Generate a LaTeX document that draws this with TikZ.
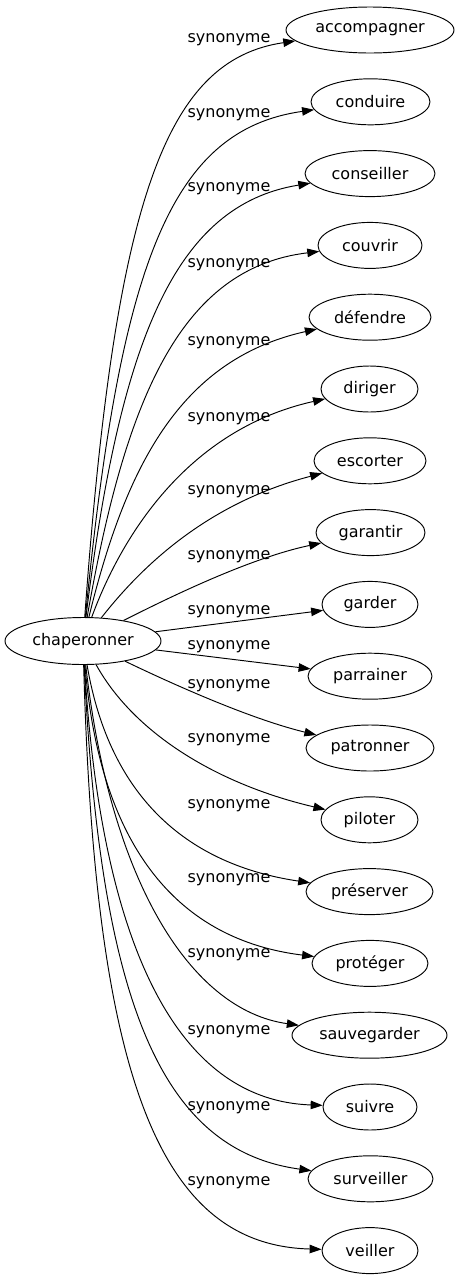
\documentclass[tikz,border=0pt]{standalone}
\usepackage{fontspec}
\setmainfont{DejaVu Sans}
\usetikzlibrary{shapes.geometric,arrows.meta}
\begin{document}
\begin{tikzpicture}[x=1pt,y=-1pt,
  word/.style={ellipse, draw, line width=0.95pt, inner sep=0pt, minimum height=46pt, font=\fontsize{16}{19}\selectfont},
  lbl/.style={inner sep=0pt, font=\fontsize{16}{19}\selectfont},
  syn/.style={line width=0.95pt, -{Triangle[length=12pt,width=8.5pt]}}]
\useasboundingbox (0,0) rectangle (459,1283);
\node[word, minimum width=156pt, minimum height=47pt] (c) at (83,641) {chaperonner};
\node[word, minimum width=168pt] (n0) at (370,30) {accompagner};
\node[word, minimum width=119pt] (n1) at (370.5,101.8) {conduire};
\node[word, minimum width=130pt] (n2) at (370,173.6) {conseiller};
\node[word, minimum width=104pt] (n3) at (370,245.4) {couvrir};
\node[word, minimum width=122pt] (n4) at (370,317.2) {défendre};
\node[word, minimum width=97pt] (n5) at (369.5,389) {diriger};
\node[word, minimum width=112pt] (n6) at (370,460.8) {escorter};
\node[word, minimum width=109pt] (n7) at (370.5,532.6) {garantir};
\node[word, minimum width=96pt] (n8) at (370,604.4) {garder};
\node[word, minimum width=124pt] (n9) at (370,676.2) {parrainer};
\node[word, minimum width=128pt] (n10) at (370,748) {patronner};
\node[word, minimum width=97pt] (n11) at (369.5,819.8) {piloter};
\node[word, minimum width=127pt] (n12) at (369.5,891.6) {préserver};
\node[word, minimum width=116pt] (n13) at (370,963.4) {protéger};
\node[word, minimum width=155pt] (n14) at (369.5,1035.2) {sauvegarder};
\node[word, minimum width=94pt] (n15) at (370,1107) {suivre};
\node[word, minimum width=125pt] (n16) at (370.5,1178.8) {surveiller};
\node[word, minimum width=96pt] (n17) at (370,1250.6) {veiller};

\node[lbl] (l0) at (229,40) {synonyme};
\node[lbl] (l1) at (229,115) {synonyme};
\node[lbl] (l2) at (229,189) {synonyme};
\node[lbl] (l3) at (229,265) {synonyme};
\node[lbl] (l4) at (229,343) {synonyme};
\node[lbl] (l5) at (229,419) {synonyme};
\node[lbl] (l6) at (229,492) {synonyme};
\node[lbl] (l7) at (229,557) {synonyme};
\node[lbl] (l8) at (229,612) {synonyme};
\node[lbl] (l9) at (229,647) {synonyme};
\node[lbl] (l10) at (229,686) {synonyme};
\node[lbl] (l11) at (229,740) {synonyme};
\node[lbl] (l12) at (229,806) {synonyme};
\node[lbl] (l13) at (229,880) {synonyme};
\node[lbl] (l14) at (229,955) {synonyme};
\node[lbl] (l15) at (229,1032) {synonyme};
\node[lbl] (l16) at (229,1108) {synonyme};
\node[lbl] (l17) at (229,1183) {synonyme};

\draw[syn] (c) .. controls (115,200) and (165,60) .. (n0);
\draw[syn] (c) .. controls (120,265) and (170,130) .. (n1);
\draw[syn] (c) .. controls (120,340) and (175,205) .. (n2);
\draw[syn] (c) .. controls (125,400) and (180,268) .. (n3);
\draw[syn] (c) .. controls (125,470) and (178,360) .. (n4);
\draw[syn] (c) .. controls (120,540) and (185,430) .. (n5);
\draw[syn] (c) .. controls (135,575) and (200,505) .. (n6);
\draw[syn] (c) .. controls (170,597) and (250,558) .. (n7);
\draw[syn] (c) -- (n8);
\draw[syn] (c) -- (n9);
\draw[syn] (c) .. controls (185,690) and (255,720) .. (n10);
\draw[syn] (c) .. controls (135,735) and (220,785) .. (n11);
\draw[syn] (c) .. controls (110,800) and (190,865) .. (n12);
\draw[syn] (c) .. controls (100,850) and (180,940) .. (n13);
\draw[syn] (c) .. controls (110,880) and (190,1010) .. (n14);
\draw[syn] (c) .. controls (100,930) and (170,1100) .. (n15);
\draw[syn] (c) .. controls (100,1000) and (160,1150) .. (n16);
\draw[syn] (c) .. controls (95,1080) and (160,1245) .. (n17);
\end{tikzpicture}
\end{document}
